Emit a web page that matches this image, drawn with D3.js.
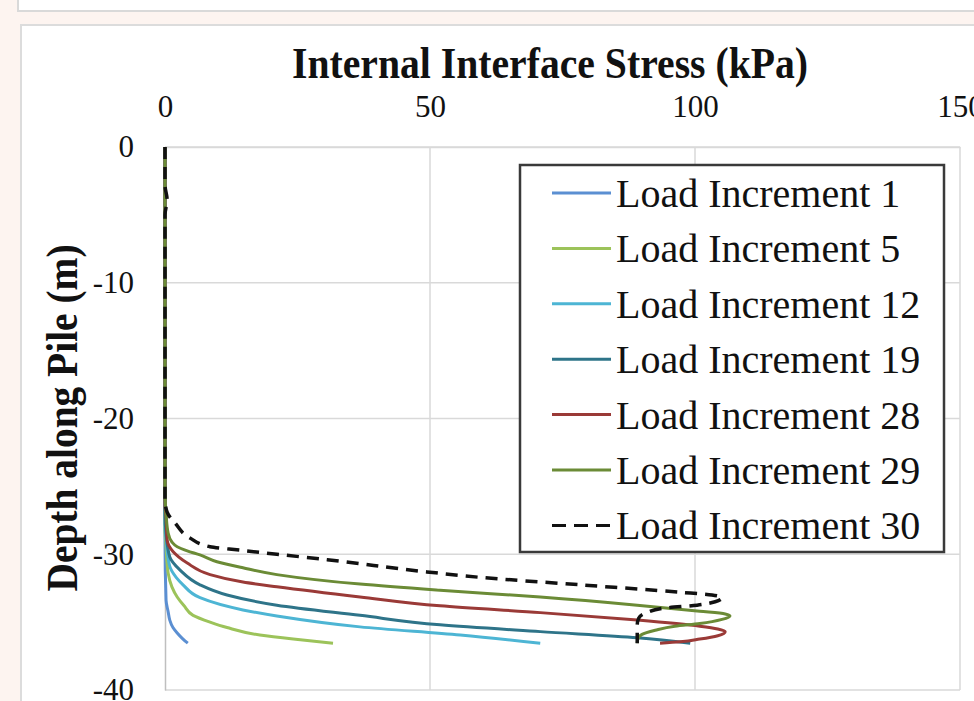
<!DOCTYPE html>
<html>
<head>
<meta charset="utf-8">
<script src="https://cdn.jsdelivr.net/npm/d3@7"></script>
<style>
  html, body { margin: 0; padding: 0; background: #fdf4f0; overflow: hidden; }
  svg { display: block; }
</style>
</head>
<body>
<div id="chart"></div>
<script>
// tick labels
var xTicks = [0, 50, 100, 150];
var yTicks = [0, -10, -20, -30, -40];

var seriesNames = ["Load Increment 1", "Load Increment 5", "Load Increment 12", "Load Increment 19",
                   "Load Increment 28", "Load Increment 29", "Load Increment 30"];

// depth (m) and internal interface stress (kPa)
var depthInc1  = [0, -28.95, -33.4, -34.25, -34.85, -35.4, -35.8, -36.25, -36.55];
var stressInc1 = [0, 0, 0.2, 0.6, 0.9, 1.5, 2.3, 3.4, 4.3];

var depthInc5  = [0, -28.2, -29.5, -31.4, -32.4, -33.15, -33.8, -34.5, -35.0, -35.4, -35.95, -36.25, -36.55];
var stressInc5 = [0, 0, 0.2, 0.6, 1.3, 2.3, 3.6, 5.3, 8.5, 11.7, 17.9, 24.2, 31.7];

var depthInc12  = [0, -27.85, -28.95, -30.9, -31.7, -32.25, -33.2, -34.1, -34.55, -35.35, -35.95, -36.55];
var stressInc12 = [0, 0, 0.2, 0.9, 2.1, 3.4, 6.6, 14.7, 21.1, 36.8, 55.7, 70.8];

var depthInc19  = [0, -27.1, -28.45, -30.2, -31.15, -32.25, -33.0, -33.75, -34.5, -35.2, -35.7, -36.15, -36.55];
var stressInc19 = [0, 0, 0.2, 0.9, 2.8, 6.6, 11.7, 21.1, 36.8, 51.9, 70.8, 89.1, 99.1];

var depthInc28  = [0, -26.4, -27.25, -28.95, -29.8, -30.65, -31.5, -32.05, -32.4, -33.15, -33.8, -34.3,
                   -34.85, -35.3, -35.5, -35.7, -36.0, -36.25, -36.45, -36.55];
var stressInc28 = [0, 0, 0.2, 0.4, 1.5, 4.2, 8.5, 14.7, 21.1, 36.8, 51.9, 70.8,
                   89.1, 100.9, 104.3, 105.7, 104.3, 100.9, 97.2, 93.4];

var depthInc29  = [0, -25.3, -27.0, -28.45, -29.1, -29.45, -29.75, -30.05, -30.55, -31.0, -31.5, -32.2, -32.65,
                   -33.15, -33.75, -34.2, -34.4, -34.55, -34.8, -35.1, -35.3, -35.6, -35.9, -36.25, -36.55];
var stressInc29 = [0, 0, 0.2, 0.6, 1.3, 2.3, 4.2, 6.6, 9.8, 14.7, 21.1, 36.8, 51.9,
                   70.8, 89.1, 100.9, 105.7, 106.6, 105.1, 100.9, 96.2, 92.5, 90.0, 89.2, 89.1];

var depthInc30  = [0, -2.8, -3.9, -5.0, -23.8, -26.0, -26.9, -27.7, -28.8, -29.45, -29.7, -30.0, -30.4,
                   -31.3, -31.7, -32.25, -32.8, -33.0, -33.2, -33.5, -33.75, -33.95, -34.3, -34.7, -35.2, -36.55];
var stressInc30 = [0, 0, 0.4, 0, 0, 0, 0.4, 1.9, 4.7, 8.5, 14.2, 21.1, 30.6,
                   49.4, 59.4, 78.3, 97.2, 103.2, 105.1, 103.8, 100.4, 94.7, 90.9, 89.4, 89.1, 89.1];

var seriesDepth  = [depthInc1, depthInc5, depthInc12, depthInc19, depthInc28, depthInc29, depthInc30];
var seriesStress = [stressInc1, stressInc5, stressInc12, stressInc19, stressInc28, stressInc29, stressInc30];

// styling
var colors = ["#5b8fd2", "#9cc35a", "#4db5d4", "#2e7489", "#9a3a37", "#6b8b36", "#111111"];
var dashes = [null, null, null, null, null, null, "12,8"];

var W = 974, H = 701;
var fontSerif = "'Liberation Serif', 'Times New Roman', serif";

var svg = d3.select("#chart").append("svg")
    .attr("width", W)
    .attr("height", H);

// panel above (cut off) and the chart card
svg.append("rect")
    .attr("x", 18).attr("y", -10).attr("width", 980).attr("height", 21)
    .attr("fill", "#fff").attr("stroke", "#d9d9d9").attr("stroke-width", 2);
svg.append("rect")
    .attr("x", 21).attr("y", 25).attr("width", 980).attr("height", 700)
    .attr("fill", "#fff").attr("stroke", "#dcdcdc").attr("stroke-width", 2);

// plot area (plain names like "top" clash with window globals)
var plotLeft = 165, plotRight = 960, plotTop = 147, plotBottom = 690;

var x = d3.scaleLinear()
    .domain([0, 150])
    .range([plotLeft, plotRight]);

var y = d3.scaleLinear()
    .domain([0, -40])
    .range([plotTop, plotBottom]);

// gridlines
var grid = svg.append("g").attr("class", "grid");
grid.selectAll("line.v")
    .data(xTicks.slice(1))
    .enter().append("line")
    .attr("class", "v")
    .attr("x1", function(d) { return x(d); }).attr("x2", function(d) { return x(d); })
    .attr("y1", plotTop).attr("y2", plotBottom)
    .attr("stroke", "#d9d9d9").attr("stroke-width", 1.5);
grid.selectAll("line.h")
    .data(yTicks)
    .enter().append("line")
    .attr("class", "h")
    .attr("x1", plotLeft).attr("x2", plotRight)
    .attr("y1", function(d) { return y(d); }).attr("y2", function(d) { return y(d); })
    .attr("stroke", "#d9d9d9").attr("stroke-width", 1.5);

// plain hyphen minus like the original, not d3's unicode minus
var plainFormat = function(d) { return String(d); };

// axes (top x axis, left y axis), Excel style: no tick marks
var xAxis = svg.append("g")
    .attr("transform", "translate(0," + plotTop + ")")
    .call(d3.axisTop(x).tickValues(xTicks).tickSize(0).tickPadding(30).tickFormat(plainFormat));
var yAxis = svg.append("g")
    .attr("transform", "translate(" + plotLeft + ",0)")
    .call(d3.axisLeft(y).tickValues(yTicks).tickSize(0).tickPadding(31).tickFormat(plainFormat));

[xAxis, yAxis].forEach(function(a) {
    a.select(".domain").attr("stroke", "#bfbfbf").attr("stroke-width", 1.5);
    a.selectAll("text")
        .attr("font-family", fontSerif)
        .attr("font-size", 31)
        .attr("fill", "#111");
});
xAxis.select(".domain").attr("stroke", "#d9d9d9");

// titles
svg.append("text")
    .attr("x", 550).attr("y", 78)
    .attr("text-anchor", "middle")
    .attr("font-family", fontSerif)
    .attr("font-weight", "bold")
    .attr("font-size", 44)
    .attr("textLength", 516)
    .attr("lengthAdjust", "spacingAndGlyphs")
    .attr("fill", "#111")
    .text("Internal Interface Stress (kPa)");

svg.append("text")
    .attr("transform", "translate(77,418) rotate(-90)")
    .attr("text-anchor", "middle")
    .attr("font-family", fontSerif)
    .attr("font-weight", "bold")
    .attr("font-size", 44)
    .attr("textLength", 347)
    .attr("lengthAdjust", "spacingAndGlyphs")
    .attr("fill", "#111")
    .text("Depth along Pile (m)");

// line generator: stress on x, depth on y
var line = d3.line()
    .x(function(d) { return x(d.s); })
    .y(function(d) { return y(d.d); })
    .curve(d3.curveMonotoneY);

seriesNames.forEach(function(name, i) {
    var pts = seriesDepth[i].map(function(dv, j) { return {d: dv, s: seriesStress[i][j]}; });
    svg.append("path")
        .datum(pts)
        .attr("fill", "none")
        .attr("stroke", colors[i])
        .attr("stroke-width", i === 6 ? 3.5 : 3)
        .attr("stroke-dasharray", dashes[i])
        .attr("d", line);
});

// legend
var legend = svg.append("g").attr("class", "legend");
legend.append("rect")
    .attr("x", 520).attr("y", 165).attr("width", 424).attr("height", 387)
    .attr("fill", "#fff").attr("stroke", "#3a3a3a").attr("stroke-width", 2.5);

var item = legend.selectAll("g.item")
    .data(seriesNames)
    .enter().append("g")
    .attr("class", "item")
    .attr("transform", function(d, i) { return "translate(0," + (193 + i * 55.4) + ")"; });

item.append("line")
    .attr("x1", 552).attr("x2", 611)
    .attr("stroke", function(d, i) { return colors[i]; })
    .attr("stroke-width", 3)
    .attr("stroke-dasharray", function(d, i) { return i === 6 ? "14,8" : null; });

item.append("text")
    .attr("x", 616).attr("y", 14)
    .attr("font-family", fontSerif)
    .attr("font-size", 40)
    .attr("fill", "#111")
    .text(function(d) { return d; });
</script>
</body>
</html>
